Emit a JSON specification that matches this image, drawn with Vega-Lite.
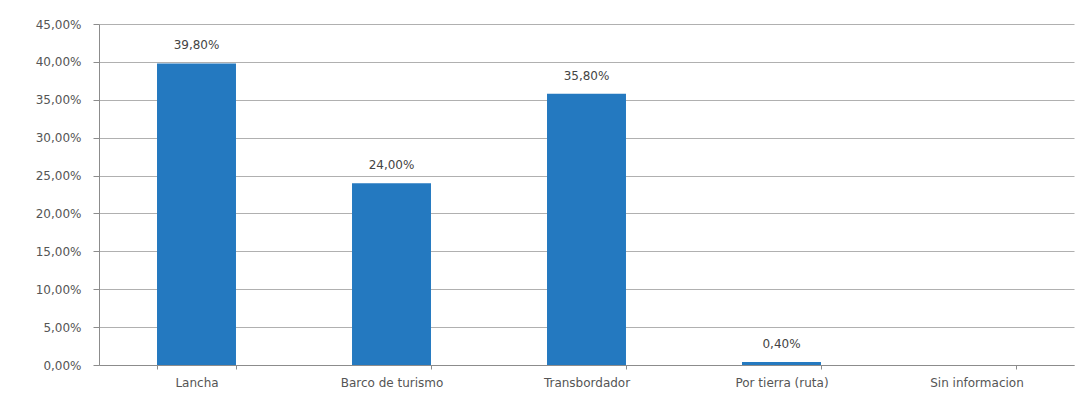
{
  "$schema": "https://vega.github.io/schema/vega-lite/v6.json",
  "width": 975,
  "height": 341,
  "autosize": {"type": "none"},
  "padding": {"left": 99, "top": 24, "right": 17, "bottom": 41},
  "background": "white",
  "data": {
    "values": [
      {"medio": "Lancha", "pct": 0.398},
      {"medio": "Barco de turismo", "pct": 0.24},
      {"medio": "Transbordador", "pct": 0.358},
      {"medio": "Por tierra (ruta)", "pct": 0.004},
      {"medio": "Sin informacion", "pct": 0}
    ]
  },
  "encoding": {
    "x": {
      "field": "medio",
      "type": "nominal",
      "sort": null,
      "title": null,
      "scale": {"paddingInner": 0.595, "paddingOuter": 0.2975},
      "axis": {
        "labelAngle": 0,
        "labelFont": "DejaVu Sans",
        "labelFontSize": 12,
        "labelColor": "#555555",
        "labelPadding": 8,
        "domainColor": "#8c8c8c",
        "tickColor": "#8c8c8c",
        "tickBand": "extent",
        "tickSize": 4
      }
    },
    "y": {
      "field": "pct",
      "type": "quantitative",
      "title": null,
      "scale": {"domain": [0, 0.45], "nice": false},
      "axis": {
        "values": [0, 0.05, 0.1, 0.15, 0.2, 0.25, 0.3, 0.35, 0.4, 0.45],
        "format": ".2%",
        "labelFont": "DejaVu Sans",
        "labelFontSize": 12,
        "labelColor": "#555555",
        "labelPadding": 12,
        "domainColor": "#8c8c8c",
        "tickColor": "#8c8c8c",
        "tickSize": 6,
        "gridColor": "#b0b0b0",
        "gridWidth": 1.2
      }
    }
  },
  "layer": [
    {"mark": {"type": "bar", "color": "#2479c0"}},
    {
      "mark": {"type": "text", "dy": -18, "font": "DejaVu Sans", "fontSize": 12, "color": "#444444"},
      "transform": [{"filter": "datum.pct > 0"}],
      "encoding": {"text": {"field": "pct", "type": "quantitative", "format": ".2%"}}
    }
  ],
  "config": {
    "view": {"stroke": null},
    "locale": {
      "number": {"decimal": ",", "thousands": ".", "grouping": [3], "currency": ["", " €"]}
    }
  }
}
